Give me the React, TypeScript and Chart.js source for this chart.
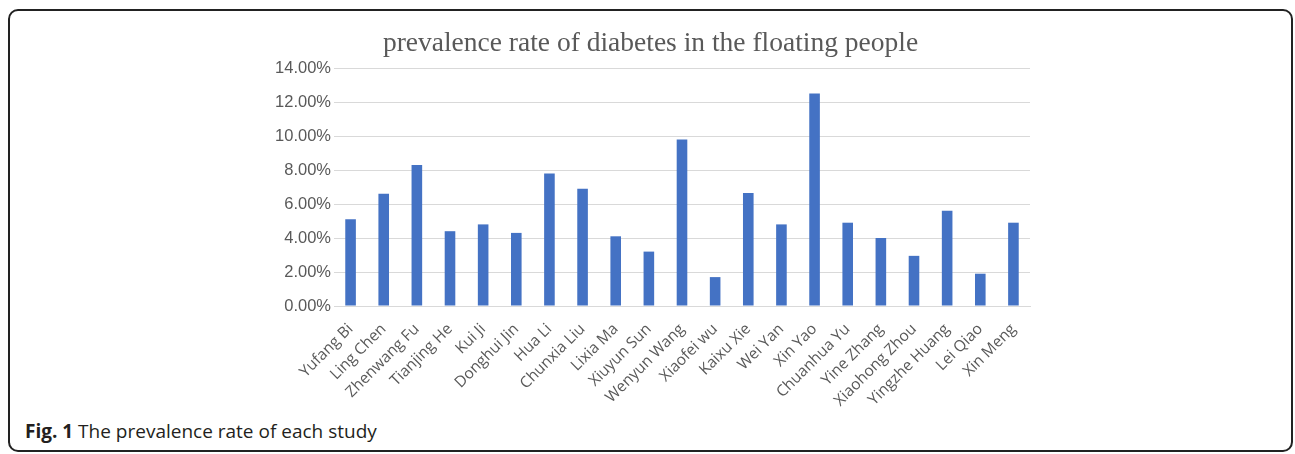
import React, { useEffect, useRef } from "react";
import { Chart, registerables } from "chart.js";

Chart.register(...registerables);

const categories = [
  "Yufang Bi", "Ling Chen", "Zhenwang Fu", "Tianjing He", "Kui Ji", "Donghui Jin", "Hua Li",
  "Chunxia Liu", "Lixia Ma", "Xiuyun Sun", "Wenyun Wang", "Xiaofei wu", "Kaixu Xie", "Wei Yan",
  "Xin Yao", "Chuanhua Yu", "Yine Zhang", "Xiaohong Zhou", "Yingzhe Huang", "Lei Qiao", "Xin Meng",
];
const prevalence = [
  5.1, 6.6, 8.3, 4.4, 4.8, 4.3, 7.8, 6.9, 4.1, 3.2, 9.8, 1.7, 6.65, 4.8, 12.5, 4.9, 4.0, 2.95, 5.6, 1.9, 4.9,
];
const yMin = 0;
const yMax = 14;
const yStep = 2;
const titleText = "prevalence rate of diabetes in the floating people";

export default function App() {
  const canvasRef = useRef<HTMLCanvasElement | null>(null);

  useEffect(() => {
    if (!canvasRef.current) return;
    const chart = new Chart(canvasRef.current, {
      type: "bar",
      data: {
        labels: categories,
        datasets: [
          {
            data: prevalence,
            backgroundColor: "#4472C4",
            borderWidth: 0,
            barPercentage: 1,
            categoryPercentage: 0.32,
          },
        ],
      },
      options: {
        animation: false,
        responsive: false,
        maintainAspectRatio: false,
        layout: { padding: { left: 0, right: 261, top: 57, bottom: 0 } },
        plugins: {
          legend: { display: false },
          tooltip: { enabled: false },
          title: { display: false },
        },
        scales: {
          x: {
            grid: { display: false, drawTicks: false },
            border: { display: true, color: "#d9d9d9", width: 1 },
            ticks: {
              autoSkip: false,
              maxRotation: 45,
              minRotation: 45,
              padding: 14,
              color: "#595959",
              font: { family: "Open Sans", size: 15.5 },
            },
            afterFit: (scale: any) => {
              scale.height = 105;
            },
          },
          y: {
            min: yMin,
            max: yMax,
            grid: { color: "#d9d9d9", lineWidth: 1, drawTicks: false },
            border: { display: false },
            ticks: {
              stepSize: yStep,
              padding: 3,
              color: "#595959",
              font: { family: "Liberation Sans", size: 16.5 },
              callback: (v: any) => Number(v).toFixed(2) + "%",
            },
            afterFit: (scale: any) => {
              scale.width = 324;
            },
          },
        },
      },
    });
    return () => chart.destroy();
  }, []);

  return (
    <>
      <style>{`html,body{margin:0;padding:0;overflow:hidden;}`}</style>
      <div
        style={{
          position: "absolute",
          left: 8,
          top: 9,
          width: 1285,
          height: 443,
          border: "2px solid #222",
          borderRadius: 10,
          boxSizing: "border-box",
          background: "#fff",
          overflow: "hidden",
        }}
      >
        <canvas
          ref={canvasRef}
          width={1281}
          height={400}
          style={{ position: "absolute", left: 0, top: 0, width: 1281, height: 400 }}
        />
        <div
          style={{
            position: "absolute",
            left: 0,
            top: 15,
            width: 1281,
            textAlign: "center",
            fontFamily: "Liberation Serif",
            fontSize: 27.5,
            lineHeight: "32px",
            color: "#595959",
            whiteSpace: "nowrap",
          }}
        >
          {titleText}
        </div>
        <div
          style={{
            position: "absolute",
            left: 15,
            top: 407,
            fontFamily: "Open Sans",
            fontSize: 19,
            lineHeight: "26px",
            color: "#231f20",
            whiteSpace: "nowrap",
          }}
        >
          <b>Fig. 1</b> The prevalence rate of each study
        </div>
      </div>
    </>
  );
}
